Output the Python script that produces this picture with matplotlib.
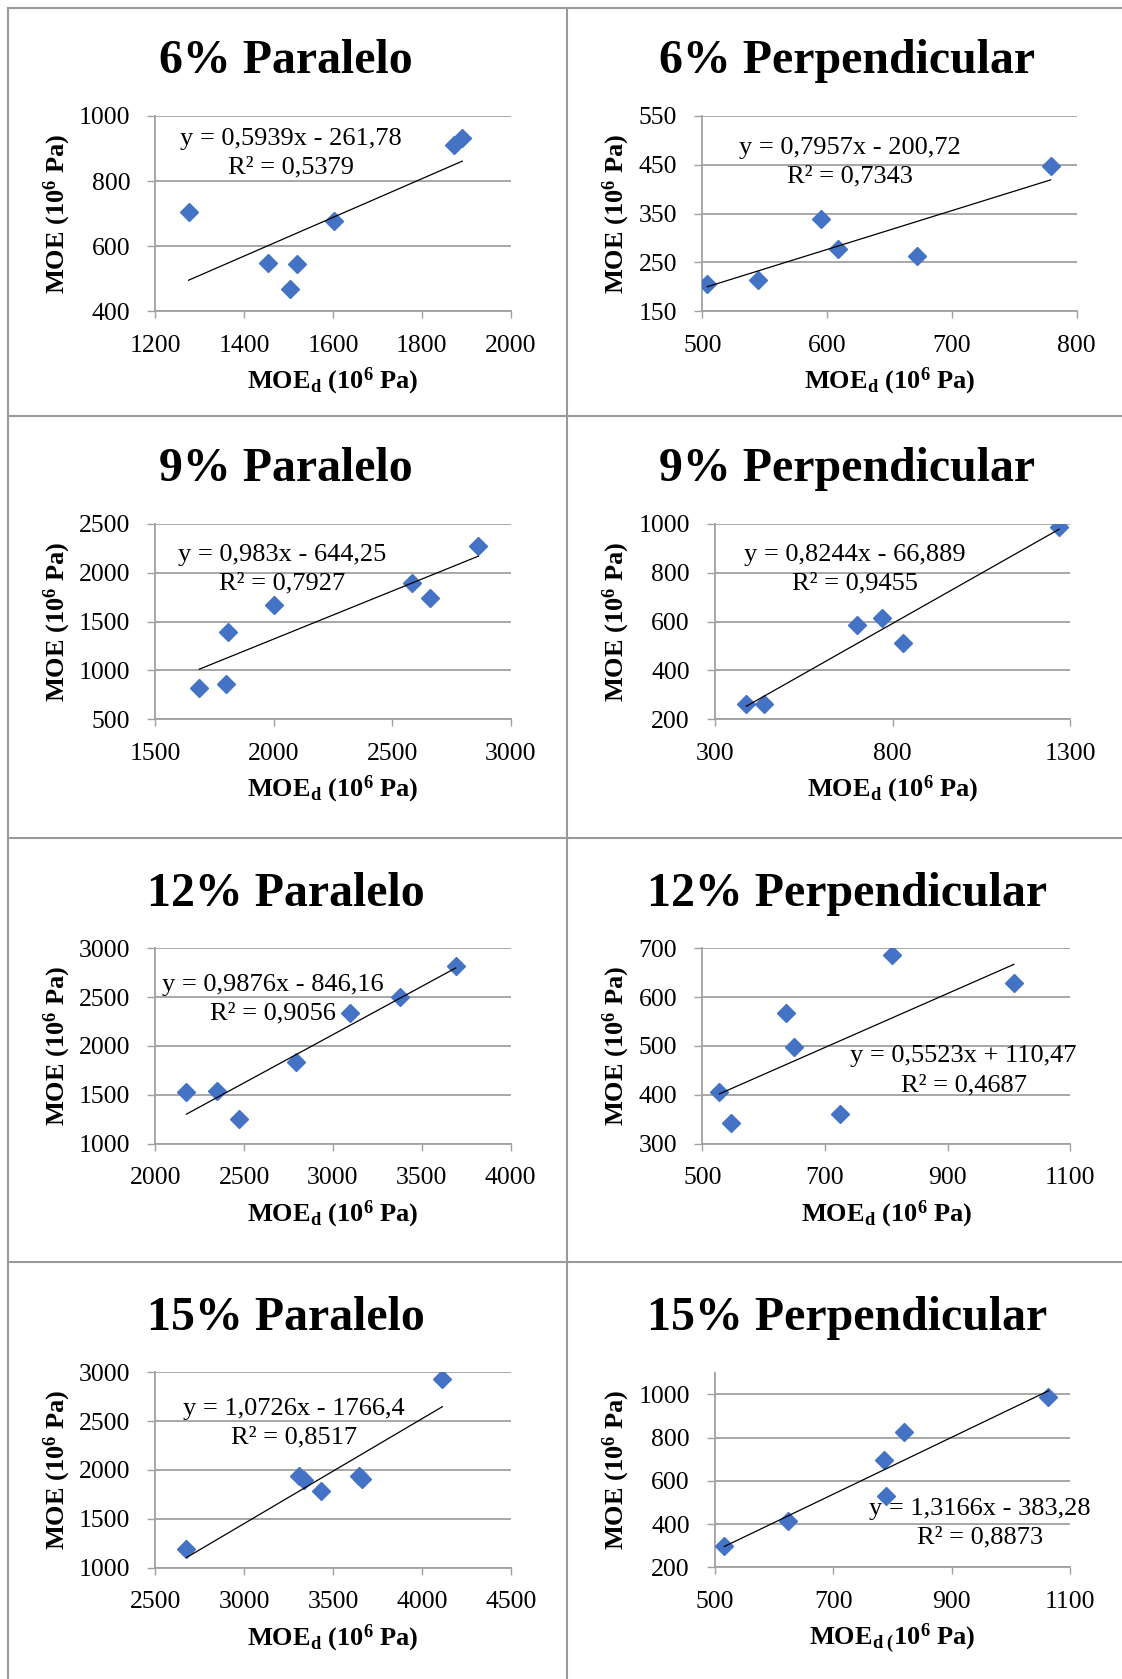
import matplotlib
matplotlib.use("Agg")
import matplotlib.pyplot as plt
from matplotlib.lines import Line2D
import numpy as np

plt.rcParams["font.family"] = ["Liberation Serif", "DejaVu Serif"]
plt.rcParams["mathtext.fontset"] = "custom"
plt.rcParams["mathtext.rm"] = "Liberation Serif"
plt.rcParams["mathtext.bf"] = "Liberation Serif:bold"
plt.rcParams["mathtext.it"] = "Liberation Serif:italic"

# ---- datos (MOEd, MOE) ----
titles = ["6% Paralelo", "6% Perpendicular", "9% Paralelo", "9% Perpendicular",
          "12% Paralelo", "12% Perpendicular", "15% Paralelo", "15% Perpendicular"]

x_6par = [1275, 1454, 1520, 1503, 1603, 1873, 1891]
y_6par = [706, 547, 545, 470, 677, 911, 931]
x_6per = [504, 545, 595, 609, 672, 779]
y_6per = [206, 215, 340, 277, 263, 448]
x_9par = [1686, 1799, 1808, 2001, 2584, 2658, 2864]
y_9par = [821, 858, 1398, 1671, 1899, 1739, 2275]
x_9per = [389, 439, 699, 770, 829, 1268]
y_9per = [262, 264, 586, 616, 511, 986]
x_12par = [2176, 2350, 2470, 2794, 3096, 3378, 3691]
y_12par = [1529, 1539, 1256, 1836, 2338, 2502, 2823]
x_12per = [528, 547, 636, 650, 724, 810, 1008]
y_12per = [405, 343, 568, 498, 361, 686, 628]
x_15par = [2676, 3308, 3336, 3435, 3647, 3664, 4116]
y_15par = [1195, 1939, 1898, 1788, 1939, 1905, 2928]
x_15per = [516, 624, 786, 789, 819, 1063]
y_15per = [298, 412, 694, 528, 828, 986]

xs = [x_6par, x_6per, x_9par, x_9per, x_12par, x_12per, x_15par, x_15per]
ys = [y_6par, y_6per, y_9par, y_9per, y_12par, y_12per, y_15par, y_15per]

# coeficientes de las líneas de tendencia
slopes = [0.5939, 0.7957, 0.983, 0.8244, 0.9876, 0.5523, 1.0726, 1.3166]
intercepts = [-261.78, -200.72, -644.25, -66.889, -846.16, 110.47, -1766.4, -383.28]
eq_text = ["y = 0,5939x - 261,78\nR² = 0,5379",
           "y = 0,7957x - 200,72\nR² = 0,7343",
           "y = 0,983x - 644,25\nR² = 0,7927",
           "y = 0,8244x - 66,889\nR² = 0,9455",
           "y = 0,9876x - 846,16\nR² = 0,9056",
           "y = 0,5523x + 110,47\nR² = 0,4687",
           "y = 1,0726x - 1766,4\nR² = 0,8517",
           "y = 1,3166x - 383,28\nR² = 0,8873"]

xlims = [(1200, 2000), (500, 800), (1500, 3000), (300, 1300),
         (2000, 4000), (500, 1100), (2500, 4500), (500, 1100)]
xsteps = [200, 100, 500, 500, 500, 200, 500, 200]
ylims = [(400, 1000), (150, 550), (500, 2500), (200, 1000),
         (1000, 3000), (300, 700), (1000, 3000), (200, 1100)]
yticks_top = [1000, 550, 2500, 1000, 3000, 700, 3000, 1000]
ysteps = [200, 100, 500, 200, 500, 100, 500, 200]

# ---- layout en píxeles ----
W, H = 1122, 1679
boxes = [(155.2, 116, 510.7, 311.3), (702.3, 116, 1076.8, 311.3),
         (155.2, 524, 510.7, 719.3), (714.8, 524, 1070.4, 719.3),
         (155.2, 948.3, 510.7, 1143.7), (702.3, 948.3, 1070.4, 1143.7),
         (155.2, 1372.3, 510.7, 1567.7), (714.8, 1372.7, 1070.4, 1567.3)]
eq_pos = [(0.382, 0.811), (0.393, 0.762), (0.358, 0.770), (0.394, 0.770),
          (0.332, 0.741), (0.710, 0.373), (0.391, 0.739), (0.746, 0.226)]
title_base = [72.7, 481, 906, 1330]
title_cx = [286, 846.7]
ylab_cx = [57, 616.3]

GRID = "#a0a0a0"
BLUE = "#4472C4"

fig = plt.figure(figsize=(W / 100, H / 100), dpi=100)


def fx(px):
    return px / W


def fy(py):
    return 1 - py / H


for i in range(8):
    l, t, r, b = boxes[i]
    ax = fig.add_axes([fx(l), fy(b), (r - l) / W, (b - t) / H])
    ax.set_xlim(*xlims[i])
    ax.set_ylim(*ylims[i])
    ax.set_xticks(np.arange(xlims[i][0], xlims[i][1] + 1, xsteps[i]))
    ax.set_yticks(np.arange(ylims[i][0], yticks_top[i] + 1, ysteps[i]))
    ax.yaxis.grid(True, color=GRID, lw=1.3)
    ax.set_axisbelow(True)
    for s in ["top", "right"]:
        ax.spines[s].set_visible(False)
    for s in ["left", "bottom"]:
        ax.spines[s].set_color(GRID)
        ax.spines[s].set_linewidth(1.3)
    ax.tick_params(axis="x", length=5, width=1.0, color=GRID, pad=12,
                   labelsize=18.5)
    ax.tick_params(axis="y", length=6, width=1.0, color=GRID, pad=12,
                   labelsize=18.5)

    ax.plot(xs[i], ys[i], ls="none", marker="D", ms=9.5, color=BLUE,
            mec=BLUE, zorder=3)
    xl = np.array([min(xs[i]), max(xs[i])])
    ax.plot(xl, slopes[i] * xl + intercepts[i], color="black", lw=0.9, zorder=4)

    ax.text(eq_pos[i][0], eq_pos[i][1], eq_text[i], transform=ax.transAxes,
            ha="center", va="center", multialignment="center", fontsize=19,
            linespacing=1.4, zorder=5)

    col = i % 2
    row = i // 2
    fig.text(fx(title_cx[col]), fy(title_base[row]), titles[i],
             fontsize=34.5, fontweight="bold", ha="center", va="baseline")
    fig.text(fx(ylab_cx[col]), fy((t + b) / 2), r"MOE (10$^\mathbf{6}$ Pa)",
             fontsize=19, fontweight="bold", rotation=90,
             ha="center", va="center")
    if i == 7:
        xlab = r"MOE$_{\mathbf{d}\ \mathbf{(}}$10$^\mathbf{6}$ Pa)"
    else:
        xlab = r"MOE$_\mathbf{d}$ (10$^\mathbf{6}$ Pa)"
    fig.text(fx((l + r) / 2), fy(b + 77.5), xlab, fontsize=19,
             fontweight="bold", ha="center", va="baseline")

# bordes de la tabla
BORDER = "#9a9a9a"
fig.add_artist(Line2D([fx(7.5), fx(7.5)], [fy(7.5), 0], color=BORDER, lw=1.5))
fig.add_artist(Line2D([fx(7.5), 1], [fy(7.5), fy(7.5)], color=BORDER, lw=1.5))
fig.add_artist(Line2D([fx(566.5), fx(566.5)], [fy(7.5), 0], color=BORDER, lw=1.5))
for yy in [415.5, 837.5, 1261.5]:
    fig.add_artist(Line2D([fx(7.5), 1], [fy(yy), fy(yy)], color=BORDER, lw=1.5))

fig.savefig("out.png", dpi=100)
